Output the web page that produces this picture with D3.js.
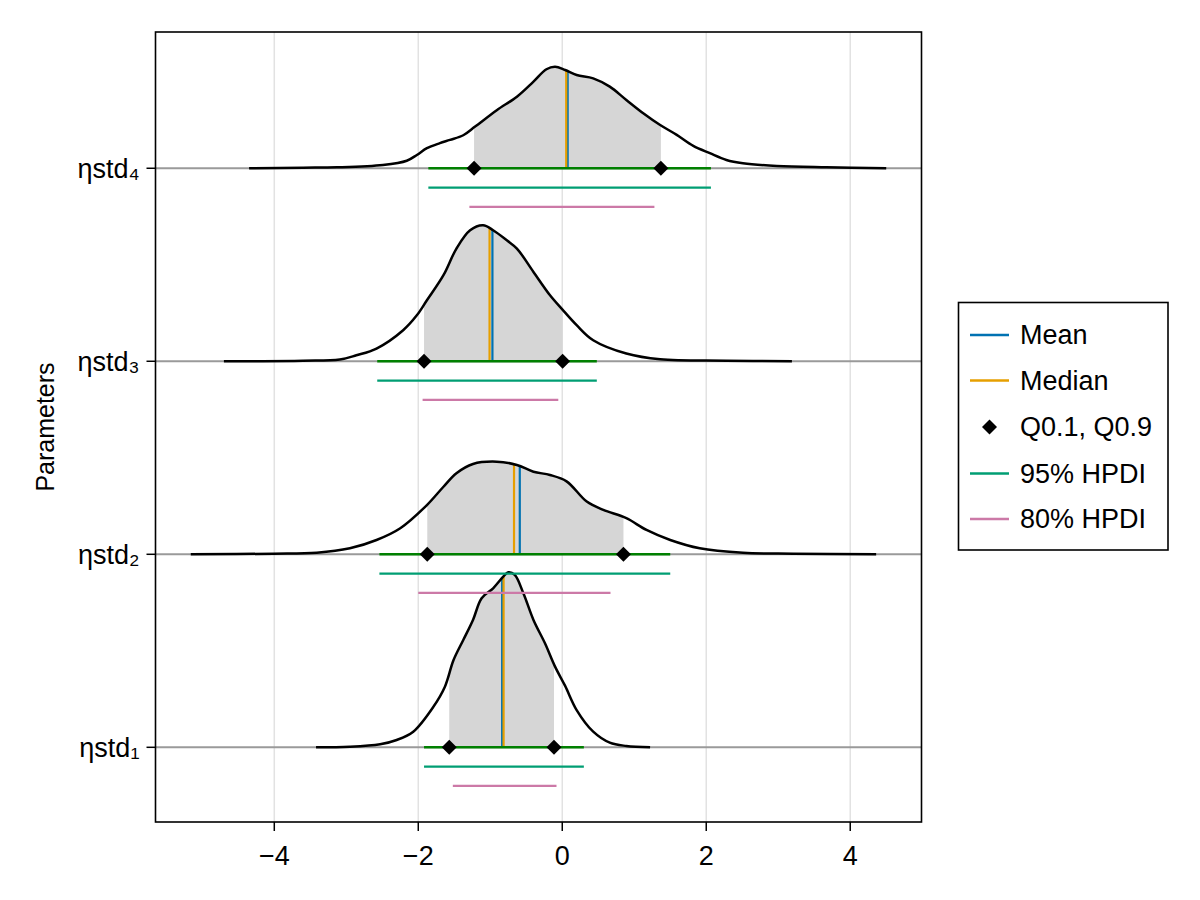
<!DOCTYPE html>
<html><head><meta charset="utf-8">
<script src="https://cdn.jsdelivr.net/npm/d3@7"></script>
<style>body{margin:0;background:#fff}svg{font-family:"Liberation Sans",Arial,Helvetica,sans-serif}</style>
</head><body><svg id="c" width="1200" height="900"></svg>
<script>
const params = ["ηstd₁","ηstd₂","ηstd₃","ηstd₄"];
const xTicks = [-4,-2,0,2,4];
const densX = [
  [-3.42,-2.95,-2.53,-2.30,-2.07,-1.79,-1.63,-1.51,-1.375,-1.24,-1.12,-0.96,-0.82,-0.75,-0.66,-0.54,-0.40,-0.24,-0.10,0.04,0.2,0.43,0.66,0.89,1.22],
  [-5.16,-4.01,-3.41,-2.95,-2.58,-2.25,-1.88,-1.65,-1.47,-1.24,-0.91,-0.63,-0.40,-0.17,0.06,0.34,0.57,0.89,1.17,1.50,1.91,2.51,3.21,4.36],
  [-4.70,-3.6,-3.09,-2.86,-2.58,-2.21,-2.02,-1.88,-1.65,-1.47,-1.28,-1.10,-0.96,-0.77,-0.63,-0.40,-0.17,0.0,0.2,0.43,0.89,1.36,2.28,3.19],
  [-4.35,-3.6,-3.13,-2.49,-2.16,-2.02,-1.88,-1.70,-1.56,-1.375,-1.21,-0.91,-0.63,-0.40,-0.22,-0.10,0.04,0.2,0.43,0.66,0.89,1.125,1.36,1.59,1.82,2.05,2.28,2.51,2.98,3.67,4.5]
];
const densY = [
  [0,0.003,0.016,0.038,0.081,0.210,0.314,0.452,0.556,0.660,0.772,0.824,0.884,0.907,0.893,0.798,0.660,0.539,0.418,0.318,0.193,0.081,0.024,0.007,0],
  [0,0.003,0.008,0.031,0.074,0.135,0.255,0.350,0.420,0.468,0.480,0.463,0.428,0.411,0.378,0.273,0.230,0.187,0.126,0.074,0.031,0.008,0.003,0],
  [0,0.003,0.009,0.031,0.066,0.161,0.238,0.316,0.446,0.584,0.679,0.705,0.679,0.627,0.584,0.463,0.342,0.269,0.187,0.109,0.040,0.010,0.003,0],
  [0,0.003,0.005,0.017,0.039,0.069,0.104,0.130,0.147,0.171,0.216,0.301,0.371,0.449,0.513,0.526,0.509,0.483,0.466,0.423,0.354,0.285,0.224,0.173,0.116,0.078,0.043,0.026,0.012,0.005,0]
];
const means   = [-0.835,-0.59,-0.97,0.075];
const medians = [-0.815,-0.67,-1.01,0.055];
const q10     = [-1.57,-1.875,-1.92,-1.225];
const q90     = [-0.115,0.85,0.005,1.37];
const hpdi95Lo = [-1.92,-2.54,-2.57,-1.86];
const hpdi95Hi = [0.30,1.50,0.48,2.065];
const hpdi80Lo = [-1.52,-2.00,-1.94,-1.29];
const hpdi80Hi = [-0.08,0.67,-0.055,1.28];
const legendLabels = ["Mean","Median","Q0.1, Q0.9","95% HPDI","80% HPDI"];

const C = {mean:"#0072B2", median:"#E69F00", h95:"#009E73", h80:"#CC79A7", green:"#008000"};
const L=155.5, R=921.5, T=32, B=822;
const svg = d3.select("#c");
const x = d3.scaleLinear().domain([-5.65,4.99]).range([L,R]);
const y = d3.scaleLinear().domain([0.613,4.706]).range([B,T]);
const fs = 27;

// grid
svg.append("g").selectAll("line").data(xTicks).join("line")
  .attr("x1",d=>x(d)).attr("x2",d=>x(d)).attr("y1",T).attr("y2",B)
  .attr("stroke","#e2e2e2").attr("stroke-width",1.5);

const defs = svg.append("defs");
defs.append("clipPath").attr("id","plotclip").append("rect").attr("x",L).attr("y",T).attr("width",R-L).attr("height",B-T);
const plot = svg.append("g").attr("clip-path","url(#plotclip)");

params.forEach((p,i)=>{
  const base = i+1;
  const pts = densX[i].map((v,j)=>[v,densY[i][j]]);
  const area = d3.area().x(d=>x(d[0])).y0(y(base)).y1(d=>y(base+d[1])).curve(d3.curveCatmullRom.alpha(0.5));
  const line = d3.line().x(d=>x(d[0])).y(d=>y(base+d[1])).curve(d3.curveCatmullRom.alpha(0.5));
  plot.append("line").attr("x1",L).attr("x2",R).attr("y1",y(base)).attr("y2",y(base))
    .attr("stroke","#9a9a9a").attr("stroke-width",2);
  defs.append("clipPath").attr("id","q"+i).append("rect")
    .attr("x",x(q10[i])).attr("width",x(q90[i])-x(q10[i])).attr("y",T).attr("height",B-T);
  defs.append("clipPath").attr("id","a"+i).append("path").attr("d",area(pts));
  plot.append("path").attr("d",area(pts)).attr("fill","#d6d6d6").attr("clip-path","url(#q"+i+")");
  const vg = plot.append("g").attr("clip-path","url(#a"+i+")");
  vg.append("line").attr("x1",x(means[i])).attr("x2",x(means[i])).attr("y1",y(base)).attr("y2",T)
    .attr("stroke",C.mean).attr("stroke-width",2.2);
  vg.append("line").attr("x1",x(medians[i])).attr("x2",x(medians[i])).attr("y1",y(base)).attr("y2",T)
    .attr("stroke",C.median).attr("stroke-width",2.2);
  plot.append("path").attr("d",line(pts)).attr("fill","none").attr("stroke","#000").attr("stroke-width",2.5);
  plot.append("line").attr("x1",x(hpdi95Lo[i])).attr("x2",x(hpdi95Hi[i])).attr("y1",y(base)).attr("y2",y(base))
    .attr("stroke",C.green).attr("stroke-width",2.6);
  plot.append("line").attr("x1",x(hpdi95Lo[i])).attr("x2",x(hpdi95Hi[i])).attr("y1",y(base-0.1)).attr("y2",y(base-0.1))
    .attr("stroke",C.h95).attr("stroke-width",2.3);
  plot.append("line").attr("x1",x(hpdi80Lo[i])).attr("x2",x(hpdi80Hi[i])).attr("y1",y(base-0.2)).attr("y2",y(base-0.2))
    .attr("stroke",C.h80).attr("stroke-width",2.3);
  [q10[i],q90[i]].forEach(q=>{
    const cx=x(q), cy=y(base), s=7.5;
    plot.append("path").attr("d",`M${cx},${cy-s}L${cx+s},${cy}L${cx},${cy+s}L${cx-s},${cy}Z`).attr("fill","#000");
  });
});

svg.append("rect").attr("x",L).attr("y",T).attr("width",R-L).attr("height",B-T)
  .attr("fill","none").attr("stroke","#000").attr("stroke-width",1.6);
const xa = svg.append("g");
xTicks.forEach(t=>{
  xa.append("line").attr("x1",x(t)).attr("x2",x(t)).attr("y1",B).attr("y2",B+9).attr("stroke","#000").attr("stroke-width",1.5);
  xa.append("text").attr("x",x(t)).attr("y",B+43).attr("text-anchor","middle").attr("font-size",fs)
    .text(t<0?"\u2212"+Math.abs(t):String(t));
});
params.forEach((p,i)=>{
  const yy=y(i+1);
  svg.append("line").attr("x1",L-9).attr("x2",L).attr("y1",yy).attr("y2",yy).attr("stroke","#000").attr("stroke-width",1.5);
  svg.append("text").attr("x",L-16).attr("y",yy).attr("dy","0.35em").attr("text-anchor","end").attr("font-size",fs)
    .style("font-family","'Liberation Sans','DejaVu Sans',sans-serif").text(p);
});
svg.append("text").attr("transform",`translate(54,${(T+B)/2}) rotate(-90)`).attr("text-anchor","middle")
  .attr("font-size",fs-2).text("Parameters");

const lg = svg.append("g");
lg.append("rect").attr("x",958.5).attr("y",302.5).attr("width",209.5).attr("height",247.5)
  .attr("fill","#fff").attr("stroke","#000").attr("stroke-width",1.6);
const ly = [335,380.5,427,473.5,519];
const lcol = [C.mean,C.median,null,C.h95,C.h80];
legendLabels.forEach((t,k)=>{
  if(lcol[k]) lg.append("line").attr("x1",970).attr("x2",1009).attr("y1",ly[k]).attr("y2",ly[k]).attr("stroke",lcol[k]).attr("stroke-width",2.3);
  else { const cx=989.5, cy=ly[k], s=7.5; lg.append("path").attr("d",`M${cx},${cy-s}L${cx+s},${cy}L${cx},${cy+s}L${cx-s},${cy}Z`).attr("fill","#000"); }
  lg.append("text").attr("x",1020).attr("y",ly[k]).attr("dy","0.35em").attr("font-size",fs).text(t);
});
</script></body></html>
